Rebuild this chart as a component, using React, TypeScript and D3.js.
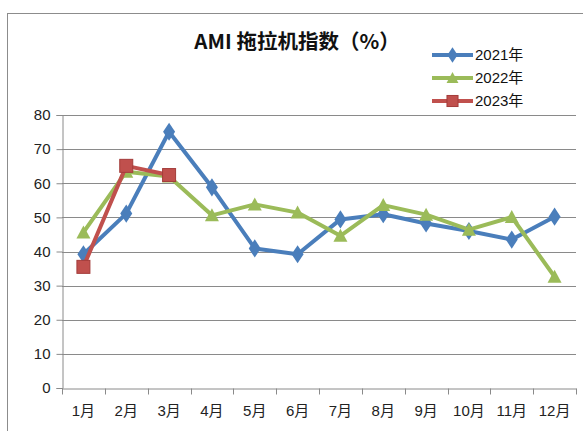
import { useEffect, useRef } from 'react'
import * as d3 from 'd3'

const W = 583
const H = 431
const M = { left: 62, right: 7, top: 115, bottom: 43 }

const months = ['1月', '2月', '3月', '4月', '5月', '6月', '7月', '8月', '9月', '10月', '11月', '12月']
const yTicks = [0, 10, 20, 30, 40, 50, 60, 70, 80]

const v2021 = [39.2, 51.1, 75.1, 58.8, 40.9, 39.2, 49.4, 50.9, 48.2, 46.0, 43.5, 50.2]
const v2022 = [45.6, 63.4, 62.0, 50.6, 53.8, 51.4, 44.6, 53.6, 50.8, 46.4, 50.1, 32.6]
const v2023 = [35.5, 65.1, 62.4]

const SERIES = [
  { name: '2021年', values: v2021, color: '#4A7EBB', marker: 'diamond' },
  { name: '2022年', values: v2022, color: '#9BBB59', marker: 'triangle' },
  { name: '2023年', values: v2023, color: '#C0504D', marker: 'square' },
]

const FONT = '"Liberation Sans", "Noto Sans CJK SC", sans-serif'

function drawMarker(g: any, kind: string, color: string, x: number, y: number, k = 1) {
  if (kind === 'diamond') {
    g.append('path')
      .attr('d', d3.symbol(d3.symbolDiamond, 95)())
      .attr('transform', `translate(${x},${y}) scale(${1.15 * k},${k})`)
      .attr('fill', color)
  } else if (kind === 'triangle') {
    g.append('path')
      .attr('d', 'M0,-7 L7,6 L-7,6 Z')
      .attr('transform', `translate(${x},${y}) scale(${k})`)
      .attr('fill', color)
  } else {
    const s = 13 * k
    g.append('rect')
      .attr('x', x - s / 2).attr('y', y - s / 2)
      .attr('width', s).attr('height', s)
      .attr('fill', color)
      .attr('stroke', '#A33C3A')
      .attr('stroke-width', 1)
  }
}

export default function App() {
  const svgRef = useRef<SVGSVGElement>(null)

  useEffect(() => {
    if (!svgRef.current) return
    const svg = d3.select(svgRef.current)
    svg.selectAll('*').remove()

    const x = d3.scaleBand().domain(months).range([M.left, W - M.right])
    const y = d3.scaleLinear().domain([0, 80]).range([H - M.bottom, M.top])
    const cx = (i: number) => (x(months[i]) as number) + x.bandwidth() / 2

    // outer chart frame
    svg.append('rect')
      .attr('x', 7.5).attr('y', 13.5)
      .attr('width', W).attr('height', H)
      .attr('fill', 'white')
      .attr('stroke', '#8C8C8C')

    // gridlines
    svg.append('g')
      .selectAll('line')
      .data(yTicks.filter((t) => t > 0))
      .join('line')
      .attr('x1', M.left).attr('x2', W - M.right)
      .attr('y1', (d) => Math.round(y(d)) + 0.5)
      .attr('y2', (d) => Math.round(y(d)) + 0.5)
      .attr('stroke', '#8A8A8A')
      .attr('stroke-width', 1)

    // y axis
    const yAxis = svg.append('g')
      .attr('transform', `translate(${M.left + 0.5},0)`)
      .call(d3.axisLeft(y).tickValues(yTicks).tickSize(6).tickPadding(6))
    yAxis.select('.domain').attr('stroke', '#8A8A8A')
    yAxis.selectAll('line').attr('stroke', '#8A8A8A')
    yAxis.selectAll('text')
      .attr('font-size', 15).attr('font-family', FONT).attr('fill', '#222')
      .attr('font-weight', 500)

    // x axis
    const xAxis = svg.append('g')
      .attr('transform', `translate(0,${Math.round(y(0)) + 0.5})`)
      .call(d3.axisBottom(x).tickSize(0).tickPadding(17))
    xAxis.select('.domain').attr('stroke', '#8A8A8A')
    xAxis.selectAll('text')
      .attr('font-size', 15).attr('font-family', FONT).attr('fill', '#222')
    xAxis.append('g')
      .selectAll('line')
      .data(d3.range(months.length + 1))
      .join('line')
      .attr('x1', (i) => Math.round(M.left + i * x.step()) + 0.5)
      .attr('x2', (i) => Math.round(M.left + i * x.step()) + 0.5)
      .attr('y1', 0).attr('y2', 6)
      .attr('stroke', '#8A8A8A')

    // series
    const line = d3.line<number>().x((_, i) => cx(i)).y((d) => y(d))
    SERIES.forEach((s) => {
      const g = svg.append('g')
      g.append('path')
        .datum(s.values)
        .attr('d', line)
        .attr('fill', 'none')
        .attr('stroke', s.color)
        .attr('stroke-width', 4)
        .attr('stroke-linejoin', 'round')
      s.values.forEach((v, i) => drawMarker(g, s.marker, s.color, cx(i), y(v)))
    })

    // title
    svg.append('text')
      .attr('x', 297).attr('y', 49)
      .attr('text-anchor', 'middle')
      .attr('font-size', 20.5)
      .attr('font-weight', 'bold')
      .attr('font-family', '"Noto Sans CJK SC", sans-serif')
      .attr('fill', '#111')
      .text('AMI 拖拉机指数（%）')

    // legend
    SERIES.forEach((s, i) => {
      const ly = 55 + i * 23
      const g = svg.append('g')
      g.append('line')
        .attr('x1', 432).attr('x2', 473)
        .attr('y1', ly).attr('y2', ly)
        .attr('stroke', s.color).attr('stroke-width', 4)
      drawMarker(g, s.marker, s.color, 452.5, ly, 0.85)
      g.append('text')
        .attr('x', 475).attr('y', ly + 5)
        .attr('font-size', 15)
        .attr('font-family', FONT)
        .attr('fill', '#111')
        .text(s.name)
    })
  }, [])

  return (
    <svg
      ref={svgRef}
      width={W}
      height={H}
      style={{ position: 'absolute', left: 0, top: 0, background: 'white' }}
    />
  )
}
